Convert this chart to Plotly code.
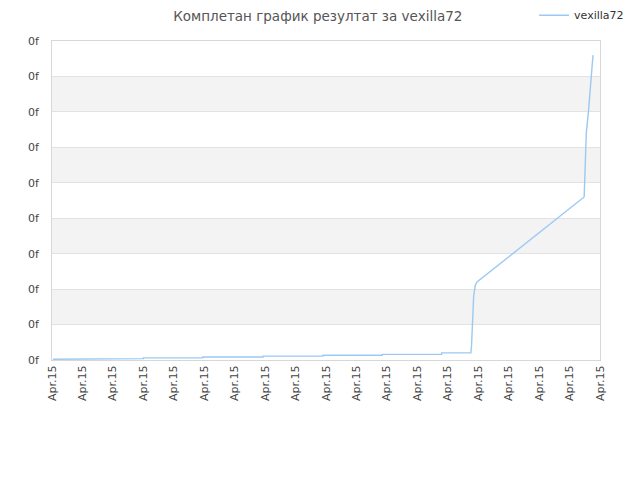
import plotly.graph_objects as go

# Data (x in tick units, y in grid units)
x_vals = [0.03, 1.0, 1.0, 3.0, 3.0, 4.95, 4.95, 6.93, 6.93, 8.9, 8.9, 10.85, 10.85, 12.8, 12.8,
          13.76, 13.78, 13.8, 13.82, 13.85, 13.9, 13.96, 17.48, 17.5, 17.55, 17.62, 17.7, 17.77]
y_vals = [0.02, 0.02, 0.04, 0.04, 0.06, 0.06, 0.085, 0.085, 0.11, 0.11, 0.135, 0.135, 0.16, 0.16, 0.2,
          0.2, 0.4, 0.8, 1.6, 1.8, 2.1, 2.2, 4.6, 5.0, 6.4, 7.0, 8.0, 8.6]
x_ticks = list(range(19))
x_labels = ["Apr.15"] * 19
y_ticks = list(range(10))
y_labels = ["0f"] * 10
series_name = "vexilla72"
title = "Комплетан график резултат за vexilla72"

fig = go.Figure()
fig.add_trace(go.Scatter(x=x_vals, y=y_vals, mode="lines", name=series_name,
                         line=dict(color="#9cc9f3", width=1.4)))

shapes = []
for k in range(1, 9, 2):
    shapes.append(dict(type="rect", xref="paper", yref="y", x0=0, x1=1, y0=k, y1=k + 1,
                       fillcolor="#f3f3f3", line=dict(width=0), layer="below"))

fig.update_layout(
    width=640, height=480,
    margin=dict(l=44, r=48, t=33, b=128, autoexpand=False),
    paper_bgcolor="white", plot_bgcolor="white",
    font=dict(family="DejaVu Sans", size=11, color="#444"),
    title=dict(text=title, x=0.484, xanchor="center", y=0.993, yanchor="top",
               pad=dict(t=0, b=0, l=0, r=0),
               font=dict(size=13.5, color="#555")),
    showlegend=True,
    legend=dict(x=0.822, xanchor="left", y=0.985, yanchor="middle", xref="container", yref="container",
                font=dict(size=11, color="#333"), bgcolor="rgba(0,0,0,0)"),
    shapes=shapes,
    xaxis=dict(range=[0, 18], tickvals=x_ticks, ticktext=x_labels, tickangle=-90,
               showgrid=False, zeroline=False, showline=True, linecolor="#d8d8d8",
               mirror=True, ticks="", automargin=False, tickfont=dict(size=11, color="#444")),
    yaxis=dict(range=[0, 9], tickvals=y_ticks, ticktext=y_labels, showgrid=True,
               gridcolor="#e2e2e2", zeroline=False, showline=True, linecolor="#d8d8d8",
               mirror=True, ticks="", automargin=False, ticklabelstandoff=10,
               tickfont=dict(size=11, color="#444")),
)

fig.write_html("out.html")
